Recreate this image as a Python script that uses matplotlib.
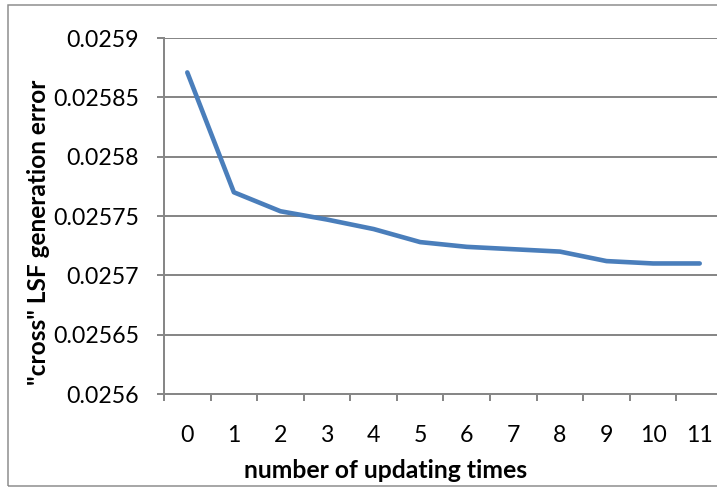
import matplotlib
matplotlib.use("Agg")
import matplotlib.pyplot as plt
from matplotlib.patches import Rectangle

# Generation error after each update round
updates = list(range(12))
tick_labels = [str(u) for u in updates]
error = [0.025871, 0.025770, 0.025754, 0.025747, 0.025739, 0.025728,
         0.025724, 0.025722, 0.025720, 0.025712, 0.025710, 0.025710]
y_ticks = [0.0256, 0.02565, 0.0257, 0.02575, 0.0258, 0.02585, 0.0259]
y_tick_labels = ["0.0256", "0.02565", "0.0257", "0.02575", "0.0258", "0.02585", "0.0259"]

plt.rcParams["font.family"] = ["Lato", "DejaVu Sans"]

W, H = 717, 488
DPI = 100
PT = 72 / DPI  # points per pixel

fig = plt.figure(figsize=(W / DPI, H / DPI), dpi=DPI)
fig.patch.set_facecolor("white")

# outer chart border (right side runs past the canvas)
fig.patches.append(Rectangle((8 / W, 1 - 486 / H), (740 - 8) / W, (486 - 5) / H,
                             transform=fig.transFigure, fill=False,
                             edgecolor="#8C8C8C", linewidth=1.5 * PT))

left, right, top, bottom = 164, 723, 38, 394
ax = fig.add_axes([left / W, 1 - bottom / H, (right - left) / W, (bottom - top) / H])

grid_c = "#878787"
ax.plot(updates, error, color="#4A7EBB", linewidth=4.6 * PT, solid_capstyle="round",
        solid_joinstyle="round", zorder=3)

ax.set_xlim(-0.5, 11.5)
ax.set_ylim(0.0256, 0.0259)
ax.set_yticks(y_ticks)
ax.set_yticklabels(y_tick_labels)
ax.set_xticks(updates)
ax.set_xticklabels(tick_labels)
ax.set_xticks([u - 0.5 for u in updates] + [11.5], minor=True)

ax.grid(axis="y", color=grid_c, linewidth=2 * PT)
ax.set_axisbelow(True)
for s in ["top", "right"]:
    ax.spines[s].set_visible(False)
for s in ["left", "bottom"]:
    ax.spines[s].set_color(grid_c)
    ax.spines[s].set_linewidth(2 * PT)

ax.tick_params(axis="y", length=7 * PT, width=2 * PT, color=grid_c, labelsize=17,
               pad=18 * PT)
ax.tick_params(axis="x", which="major", length=0, labelsize=17, pad=31 * PT)
ax.tick_params(axis="x", which="minor", length=7 * PT, width=2 * PT, color=grid_c)

ax.set_xlabel("number of updating times", fontsize=17, fontweight="bold")
ax.set_ylabel('"cross" LSF generation error', fontsize=17, fontweight="bold")

# size the text so the rendered lengths follow the chart's proportions
fig.canvas.draw()
rend = fig.canvas.get_renderer()


def scaled_size(text_obj, target_px, vertical=False):
    ext = text_obj.get_window_extent(rend)
    length = ext.height if vertical else ext.width
    return text_obj.get_fontsize() * target_px / length


ref_label = [t for t in ax.get_yticklabels() if t.get_text() == "0.02585"][0]
tick_size = scaled_size(ref_label, 86)
ax.tick_params(axis="both", labelsize=tick_size)

ax.xaxis.label.set_fontsize(scaled_size(ax.xaxis.label, 285))
ax.yaxis.label.set_fontsize(scaled_size(ax.yaxis.label, 305, vertical=True))

# axis title placement (in axes fractions of the plot box)
plot_w, plot_h = right - left, bottom - top
ax.xaxis.label.set_va("baseline")
ax.xaxis.set_label_coords((385.5 - left) / plot_w, (bottom - 478) / plot_h)
ax.yaxis.label.set_va("center")
ax.yaxis.set_label_coords((38.5 - left) / plot_w, (bottom - 232.5) / plot_h)

fig.savefig("out.png", dpi=DPI)
